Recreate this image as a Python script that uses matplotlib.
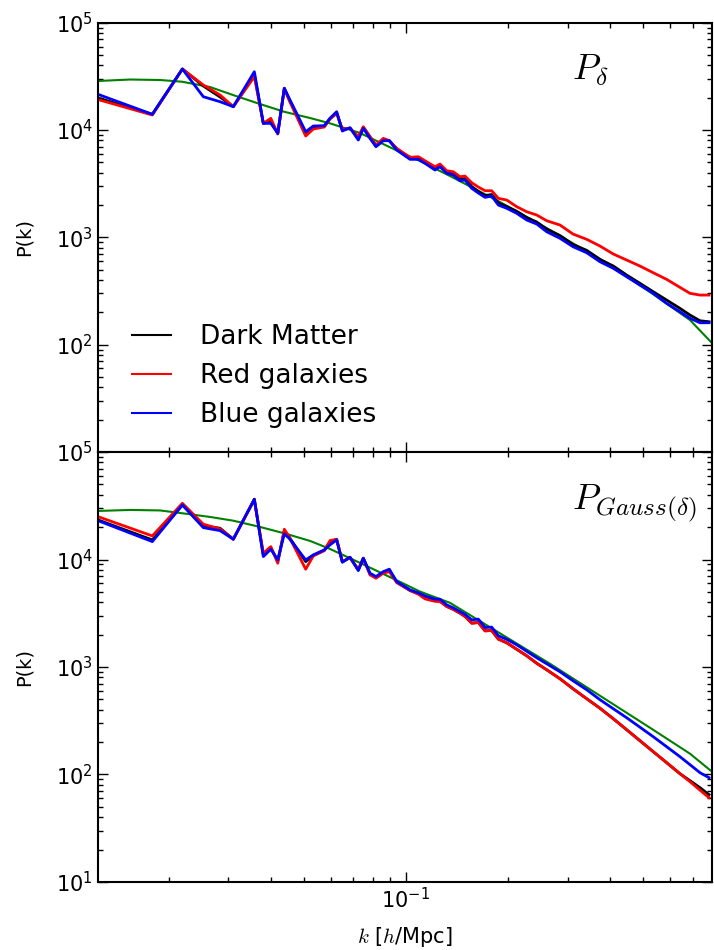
import matplotlib
matplotlib.use('Agg')
import matplotlib.pyplot as plt
import numpy as np
from matplotlib.ticker import FuncFormatter, NullFormatter

# measured power spectra (k in h/Mpc)
k = [0.01238, 0.01790, 0.02195, 0.02530, 0.02835, 0.03101, 0.03577, 0.03802, 0.04000, 0.04194,
     0.04384, 0.04527, 0.05069, 0.05337, 0.05752, 0.05977, 0.06254, 0.06500, 0.06847, 0.07244,
     0.07494, 0.07842, 0.08167, 0.08585, 0.08942, 0.09401, 0.1029, 0.1089, 0.1139, 0.1219,
     0.1261, 0.1320, 0.1380, 0.1444, 0.1494, 0.1564, 0.1636, 0.1712, 0.1791, 0.1874,
     0.1984, 0.2123, 0.2272, 0.2432, 0.2602, 0.2848, 0.3111, 0.3414, 0.3736, 0.4089,
     0.4477, 0.4900, 0.5363, 0.5872, 0.6428, 0.6881, 0.7364, 0.7829]

# top panel: P_delta
dm_delta = [19870, 14010, 37020, 25710, 20300, 16490, 33050, 11540, 12130, 9316,
            24470, 19450, 9277, 10670, 10900, 12800, 14560, 10000, 10440, 8332,
            10550, 8513, 7094, 8155, 7949, 6651, 5425, 5483, 5032, 4378,
            4669, 4061, 3932, 3494, 3532, 2975, 2672, 2452, 2506, 2088,
            1937, 1747, 1530, 1389, 1195, 1039, 856.8, 756.5, 623.7, 540.2,
            445.3, 372.7, 311.2, 260.4, 217.9, 188.7, 167.0, 163.5]
red_delta = [19240, 13800, 37020, 26270, 21200, 16490, 31380, 11540, 12850, 9177,
             24470, 19040, 8793, 10220, 10670, 12660, 14250, 10220, 10370, 8662,
             10730, 8698, 7248, 8367, 7949, 6751, 5566, 5638, 5174, 4550,
             4821, 4176, 4087, 3671, 3727, 3228, 2943, 2719, 2719, 2309,
             2226, 1929, 1732, 1614, 1428, 1302, 1073, 958.1, 829.7, 699.0,
             614.5, 540.2, 467.8, 406.0, 342.0, 300.8, 289.9, 289.9]
blue_delta = [21510, 14010, 37020, 20440, 18350, 16490, 34940, 11540, 11540, 9316,
              24470, 19870, 9643, 10900, 10970, 12850, 14810, 9788, 10510, 8069,
              10370, 8367, 6989, 7949, 7949, 6511, 5332, 5332, 4894, 4239,
              4550, 3949, 3807, 3369, 3420, 2862, 2588, 2359, 2426, 2000,
              1864, 1674, 1450, 1330, 1128, 978.8, 817.4, 718.7, 592.4, 514.2,
              429.3, 359.3, 300.8, 242.6, 202.6, 175.9, 160.0, 160.0]

# bottom panel: P_Gauss(delta)
dm_gauss = [23330, 15210, 32170, 20530, 19540, 15440, 36340, 11040, 12820, 9705,
            18440, 16220, 9561, 10920, 12200, 14570, 15380, 9499, 10460, 8004,
            10280, 7348, 6818, 7589, 7919, 6166, 5162, 4811, 4444, 4150,
            4124, 3665, 3438, 3170, 2959, 2559, 2592, 2170, 2184, 1817,
            1679, 1461, 1271, 1082, 941.9, 776.9, 627.2, 506.5, 413.2, 330.0,
            260.9, 206.1, 162.9, 128.8, 101.7, 87.60, 75.39, 64.91]
red_gauss = [25040, 16570, 33360, 21290, 19250, 15440, 35800, 11450, 13180, 9240,
             19120, 16320, 8126, 10800, 12090, 14990, 15440, 9561, 10350, 8126,
             10280, 7192, 6701, 7459, 7718, 6100, 5140, 4760, 4303, 4080,
             4062, 3650, 3438, 3170, 2959, 2559, 2592, 2170, 2184, 1817,
             1679, 1461, 1271, 1082, 941.9, 776.9, 627.2, 506.5, 413.2, 330.0,
             260.9, 206.1, 162.9, 128.8, 101.7, 85.74, 71.46, 60.86]
blue_gauss = [22990, 14670, 32170, 19790, 18560, 15440, 36340, 10640, 12460, 9915,
              17290, 15780, 9915, 11040, 12280, 13670, 15210, 9438, 10510, 7885,
              10280, 7459, 6937, 7718, 8126, 6232, 5218, 4893, 4588, 4276,
              4276, 3785, 3550, 3280, 3090, 2747, 2788, 2329, 2349, 1950,
              1809, 1608, 1399, 1218, 1071, 902.3, 744.3, 613.9, 495.8, 408.8,
              337.2, 275.2, 224.5, 181.3, 146.4, 123.4, 103.9, 93.4]

# theory curves
k_th = [0.01238, 0.01539, 0.01886, 0.02190, 0.02648, 0.03094, 0.03717, 0.04375, 0.05221, 0.05977,
        0.07328, 0.09614, 0.1101, 0.1350, 0.1895, 0.2661, 0.3736, 0.5245, 0.6881, 0.7988]
th_delta = [28620, 29550, 29240, 28190, 25160, 21200, 17470, 14810, 12940, 11540,
            9376, 6237, 5142, 3727, 2133, 1170, 627.7, 309.3, 169.6, 103.5]
th_gauss = [28290, 28910, 28600, 26940, 24880, 22990, 20090, 17550, 14890, 12540,
            9299, 6192, 5031, 3951, 2057, 1071, 539.9, 272.2, 156.1, 106.2]

plt.rcParams['font.family'] = ['DejaVu Sans']
plt.rcParams['mathtext.fontset'] = 'cm'
plt.rcParams['axes.linewidth'] = 1.5

fig = plt.figure(figsize=(7.14, 9.5), dpi=100)
ax1 = fig.add_axes([0.13725, 0.52421, 0.85994, 0.45190])
ax2 = fig.add_axes([0.13725, 0.07158, 0.85994, 0.45263], sharex=ax1)


def log_label(v, pos):
    e = int(round(np.log10(v)))
    return r'$\mathregular{10^{%d}}$' % e


def log_label_top(v, pos):
    e = int(round(np.log10(v)))
    if e == 1:
        return ''
    return r'$\mathregular{10^{%d}}$' % e


panels = [(ax1, dm_delta, red_delta, blue_delta, th_delta, r'$P_\delta$'),
          (ax2, dm_gauss, red_gauss, blue_gauss, th_gauss, r'$P_{Gauss(\delta)}$')]

for ax, dm, red, blue, th, name in panels:
    ax.plot(k_th, th, color='#008000', lw=1.5)
    ax.plot(k, dm, color='k', lw=2, label='Dark Matter')
    ax.plot(k, red, color='r', lw=2, label='Red galaxies')
    ax.plot(k, blue, color='b', lw=2, label='Blue galaxies')
    ax.set_xscale('log')
    ax.set_yscale('log')
    ax.set_xlim(0.01238, 0.7988)
    ax.set_ylim(10, 1e5)
    ax.tick_params(which='both', direction='in', top=True, right=True, labelsize=15)
    ax.tick_params(which='major', length=7, width=1)
    ax.tick_params(which='minor', length=3.5, width=1)
    ax.xaxis.set_major_formatter(FuncFormatter(log_label))
    ax.xaxis.set_minor_formatter(NullFormatter())
    ax.yaxis.set_minor_formatter(NullFormatter())
    ax.set_ylabel('P(k)', fontsize=14)
    ax.yaxis.set_label_coords(-0.105, 0.5)
    ax.text(0.772, 0.866, name, transform=ax.transAxes, ha='left', va='baseline', fontsize=26)

ax1.yaxis.set_major_formatter(FuncFormatter(log_label_top))
ax2.yaxis.set_major_formatter(FuncFormatter(log_label))
plt.setp(ax1.get_xticklabels(), visible=False)
ax2.set_xlabel(r'$k$ [$h$/Mpc]', fontsize=15, labelpad=9)

leg = ax1.legend(loc='lower left', bbox_to_anchor=(0.055, 0.055), frameon=False, fontsize=19,
                 handlelength=1.5, handletextpad=1.1, labelspacing=0.5,
                 borderpad=0, borderaxespad=0)
for line in leg.get_lines():
    line.set_linewidth(1.5)

fig.savefig('out.png', dpi=100)
